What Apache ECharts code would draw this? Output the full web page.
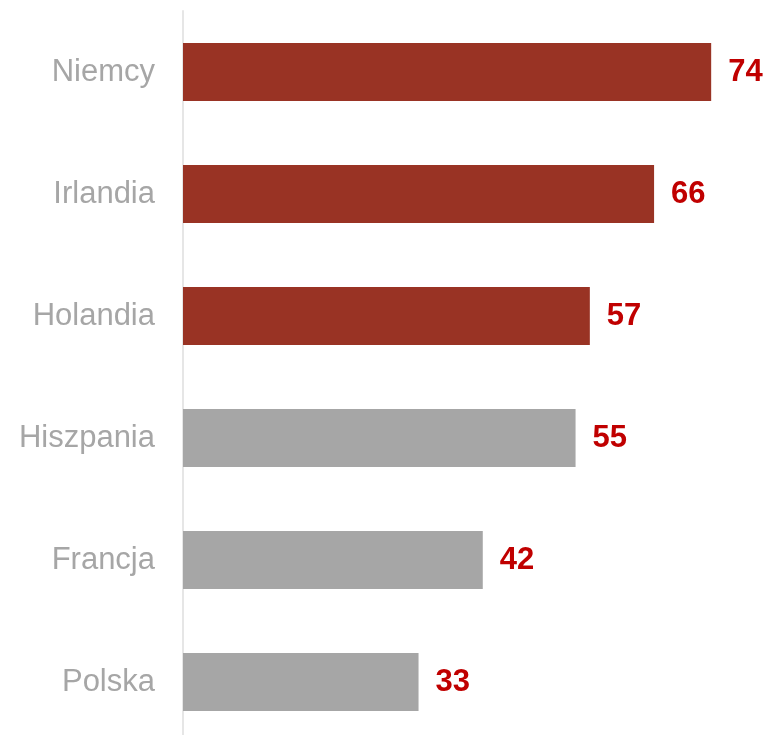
<!DOCTYPE html>
<html>
<head>
<meta charset="utf-8">
<script src="https://cdn.jsdelivr.net/npm/echarts@6/dist/echarts.min.js"></script>
<style>
  html, body { margin: 0; padding: 0; background: #fff; overflow: hidden; }
  /* wykres jest trochę wyższy niż okno - oś schodzi poza dolną krawędź */
  #chart { width: 769px; height: 743px; }
</style>
</head>
<body>
<div id="chart"></div>
<script>
// dane z wykresu (od góry)
const countries = ["Niemcy", "Irlandia", "Holandia", "Hiszpania", "Francja", "Polska"];
const values = [74, 66, 57, 55, 42, 33];
const highlighted = [true, true, true, false, false, false];

const RED = "#993324";
const GREY = "#A6A6A6";

const chart = echarts.init(document.getElementById("chart"));

const option = {
  animation: false,
  grid: { left: 183, right: 15, top: 11, bottom: 0 },
  xAxis: {
    type: "value",
    min: 0,
    max: 80,
    show: false
  },
  yAxis: {
    type: "category",
    inverse: true,
    data: countries,
    axisLine: { show: true, lineStyle: { color: "#E6E6E6", width: 2 } },
    axisTick: { show: false },
    axisLabel: {
      color: "#A6A6A6",
      fontFamily: "Liberation Sans, Arial, sans-serif",
      fontSize: 31,
      margin: 28
    }
  },
  series: [{
    type: "bar",
    barWidth: "47.5%",
    data: values.map((v, i) => ({
      value: v,
      itemStyle: { color: highlighted[i] ? RED : GREY }
    })),
    label: {
      show: true,
      position: "right",
      distance: 17,
      color: "#C00000",
      fontWeight: "bold",
      fontFamily: "Liberation Sans, Arial, sans-serif",
      fontSize: 31,
      padding: [4, 0, 0, 0]
    }
  }]
};

chart.setOption(option);
</script>
</body>
</html>
